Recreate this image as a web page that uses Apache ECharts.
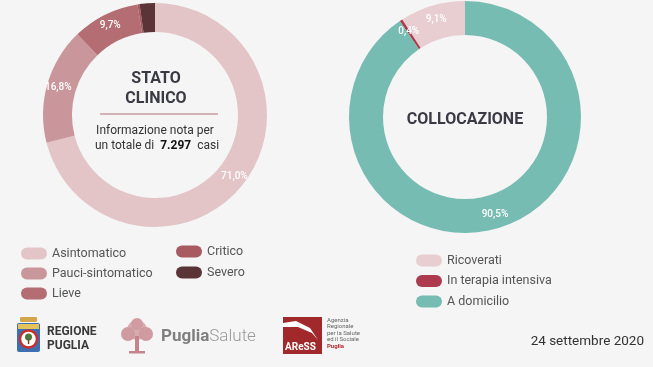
<!DOCTYPE html>
<html><head><meta charset="utf-8">
<script src="https://cdn.jsdelivr.net/npm/echarts@6/dist/echarts.min.js"></script>
<style>html,body{margin:0;padding:0;background:#f5f5f5}#c{width:653px;height:367px}</style>
</head><body><div id="c"></div>
<script>
const clinicoNames = ['Asintomatico', 'Pauci-sintomatico', 'Lieve', 'Critico', 'Severo'];
const clinicoValues = [71.0, 16.8, 9.7, 0.3, 2.2];
const clinicoColors = ['#e3c5c8', '#c9979b', '#b46d72', '#a85a60', '#5a3437'];
const collNames = ['Ricoverati', 'In terapia intensiva', 'A domicilio'];
const collValues = [9.1, 0.4, 90.5];
const collColors = ['#e8ced1', '#ad3a4f', '#77bcb2'];
const totalCasi = '7.297';
const dateText = '24 settembre 2020';

const fmt = v => v.toFixed(1).replace('.', ',') + '%';
const F = 'Roboto, "Noto Sans", sans-serif';
const pill = 'path://M6,0 H20 A6,6 0 0 1 20,12 H6 A6,6 0 0 1 6,0 Z';

const chart = echarts.init(document.getElementById('c'), null, {renderer: 'canvas'});
const labelBase = {position: 'inside', color: '#fff', fontSize: 10, fontFamily: F, fontWeight: 500,
  formatter: p => fmt(p.value)};

const legendBase = {orient: 'vertical', icon: pill, itemWidth: 26, itemHeight: 12, itemGap: 7,
  textStyle: {fontFamily: F, fontSize: 12.5, color: '#555', lineHeight: 12}, selectedMode: false};

chart.setOption({
  backgroundColor: '#f5f5f5',
  animation: false,
  legend: [
    Object.assign({}, legendBase, {left: 16, top: 242, data: clinicoNames.slice(0, 3)}),
    Object.assign({}, legendBase, {left: 171, top: 240, itemGap: 8, data: clinicoNames.slice(3)}),
    Object.assign({}, legendBase, {left: 411, top: 249, itemGap: 7.5, data: collNames})
  ],
  series: [
    {type: 'pie', center: [155, 115], radius: [83, 112], startAngle: 90, clockwise: true,
     silent: true, label: labelBase, labelLine: {show: false},
     data: clinicoNames.map((n, i) => ({name: n, value: clinicoValues[i],
       itemStyle: {color: clinicoColors[i]}, label: {show: clinicoValues[i] >= 5}}))},
    {type: 'pie', center: [465, 117], radius: [82, 116], startAngle: 90, clockwise: false,
     silent: true, label: labelBase, labelLine: {show: false},
     data: collNames.map((n, i) => ({name: n, value: collValues[i],
       itemStyle: {color: collColors[i]}}))}
  ],
  graphic: [
    {type: 'text', style: {text: 'STATO', x: 156, y: 79, align: 'center', verticalAlign: 'middle',
      font: 'bold 16px ' + F, fill: '#3a3a44'}},
    {type: 'text', style: {text: 'CLINICO', x: 156, y: 99, align: 'center', verticalAlign: 'middle',
      font: 'bold 16px ' + F, fill: '#3a3a44'}},
    {type: 'line', shape: {x1: 100, y1: 114, x2: 218, y2: 114}, style: {stroke: '#c99ca0', lineWidth: 1.5}},
    {type: 'text', style: {text: 'Informazione nota per', x: 155, y: 131, align: 'center', verticalAlign: 'middle',
      font: '12px ' + F, fill: '#333'}},
    {type: 'text', style: {
      rich: {n: {font: '12px ' + F, fill: '#333'}, b: {font: 'bold 12px ' + F, fill: '#111'}},
      text: '{n|un totale di  }{b|' + totalCasi + '}{n|  casi}', x: 157, y: 146, align: 'center', verticalAlign: 'middle'}},
    {type: 'text', style: {text: 'COLLOCAZIONE', x: 465, y: 120, align: 'center', verticalAlign: 'middle',
      font: 'bold 16px ' + F, fill: '#3a3a44'}},
    // Regione Puglia logo
    {type: 'rect', shape: {x: 20, y: 317, width: 17, height: 5, r: 1}, style: {fill: '#d4a64a'}},
    {type: 'rect', shape: {x: 17, y: 323, width: 23, height: 29, r: 2}, style: {fill: '#3d6fb0'}},
    {type: 'rect', shape: {x: 18, y: 324, width: 21, height: 5}, style: {fill: '#e6c35a'}},
    {type: 'circle', shape: {cx: 28.5, cy: 339, r: 8.5}, style: {fill: '#fff', stroke: '#c8302e', lineWidth: 2.5}},
    {type: 'circle', shape: {cx: 28.5, cy: 337, r: 3.5}, style: {fill: '#4d7a3a'}},
    {type: 'rect', shape: {x: 27.8, y: 339, width: 1.5, height: 5}, style: {fill: '#6b4a2a'}},
    {type: 'text', style: {text: 'REGIONE', x: 47, y: 332, verticalAlign: 'middle', font: 'bold 12px ' + F, fill: '#3a3a3a'}},
    {type: 'text', style: {text: 'PUGLIA', x: 47, y: 346, verticalAlign: 'middle', font: 'bold 12px ' + F, fill: '#3a3a3a'}},
    // Puglia Salute logo
    {type: 'circle', shape: {cx: 137, cy: 330, r: 10}, style: {fill: '#d8a9ad'}},
    {type: 'circle', shape: {cx: 128, cy: 334, r: 7}, style: {fill: '#cf9aa0'}},
    {type: 'circle', shape: {cx: 146, cy: 334, r: 7}, style: {fill: '#cf9aa0'}},
    {type: 'circle', shape: {cx: 137, cy: 324, r: 6}, style: {fill: '#d19ca1'}},
    {type: 'rect', shape: {x: 135, y: 336, width: 4, height: 17}, style: {fill: '#c4868c'}},
    {type: 'rect', shape: {x: 129, y: 351, width: 16, height: 2.5}, style: {fill: '#c4868c'}},
    {type: 'text', style: {
      rich: {a: {font: 'bold 17px ' + F, fill: '#7f7f7f'}, b: {font: '300 17px ' + F, fill: '#9a9a9a'}},
      text: '{a|Puglia}{b|Salute}', x: 161, y: 337, verticalAlign: 'middle'}},
    // ARESS logo
    {type: 'rect', shape: {x: 283, y: 317, width: 39, height: 37}, style: {fill: '#a1292b'}},
    {type: 'polygon', shape: {points: [[283, 323], [296, 321], [310, 328], [318, 340], [312, 333], [298, 327], [283, 327]]}, style: {fill: '#fff'}},
    {type: 'text', style: {text: 'AReSS', x: 285, y: 347, verticalAlign: 'middle', font: 'bold 10px "Liberation Sans Narrow", ' + F, fill: '#fff'}},
    {type: 'text', style: {text: 'Agenzia\nRegionale\nper la Salute\ned il Sociale', x: 327, y: 317, lineHeight: 6.5,
      font: '6px ' + F, fill: '#666'}},
    {type: 'text', style: {text: 'Puglia', x: 327, y: 343, font: 'bold 6px ' + F, fill: '#b3282d'}},
    {type: 'text', style: {text: dateText, x: 644, y: 342, align: 'right', verticalAlign: 'middle',
      font: '13.5px ' + F, fill: '#333'}}
  ]
});
</script></body></html>
